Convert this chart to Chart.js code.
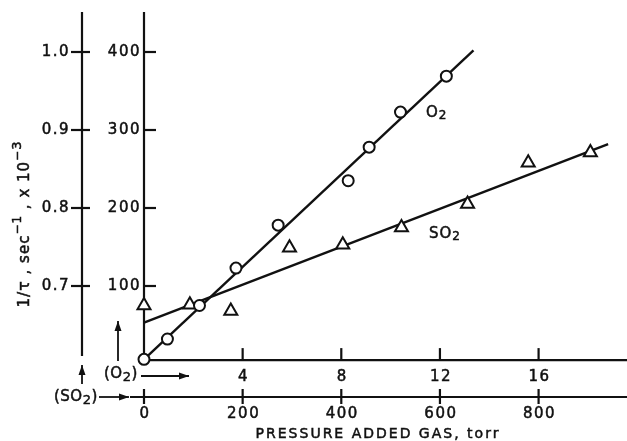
<!DOCTYPE html>
<html>
<head>
<meta charset="utf-8">
<script src="https://cdn.jsdelivr.net/npm/chart.js@4/dist/chart.umd.min.js"></script>
<style>
  body { margin: 0; background: #fff; }
  canvas { display: block; }
</style>
</head>
<body>
<canvas id="chart" width="627" height="441"></canvas>
<script>
// 讀自圖上的數值
const o2Pressure = [0, 0.95, 2.25, 3.73, 5.44, 8.28, 9.13, 10.4, 12.26];
const o2Rate = [6, 32, 75, 123, 178, 235, 278, 323, 369];
const so2Pressure = [0, 93, 176, 295, 403, 522, 656, 779, 905];
const so2Rate = [75, 76, 68, 149, 153, 175, 205, 258, 271];

// 擬合直線 (兩端點)
const o2FitX = [0, 13.36];
const o2FitY = [6, 402];
const so2FitX = [0, 941];
const so2FitY = [53, 282];

// 刻度
const innerTicks = [100, 200, 300, 400];
const outerTicks = [0.7, 0.8, 0.9, 1.0];
const o2Ticks = [4, 8, 12, 16];
const so2Ticks = [0, 200, 400, 600, 800];

const INK = '#111';
const FONT = '"DejaVu Sans"';

function toPoints(xs, ys) {
    return xs.map((x, i) => ({ x: x, y: ys[i] }));
}

function arrow(ctx, x1, y1, x2, y2, head) {
    const a = Math.atan2(y2 - y1, x2 - x1);
    ctx.beginPath();
    ctx.moveTo(x1, y1);
    ctx.lineTo(x2, y2);
    ctx.stroke();
    ctx.beginPath();
    ctx.moveTo(x2, y2);
    ctx.lineTo(x2 - head * Math.cos(a) + head * 0.35 * Math.sin(a), y2 - head * Math.sin(a) - head * 0.35 * Math.cos(a));
    ctx.lineTo(x2 - head * Math.cos(a) - head * 0.35 * Math.sin(a), y2 - head * Math.sin(a) + head * 0.35 * Math.cos(a));
    ctx.closePath();
    ctx.fill();
}

// 粗一點的文字 (模仿掃描線條)
function inkText(ctx, s, x, y) {
    ctx.fillText(s, x, y);
    ctx.strokeText(s, x, y);
}

// 多段文字: [文字, 垂直位移, 字級]
function richText(ctx, parts, x, y, align) {
    ctx.save();
    ctx.textAlign = 'left';
    let total = 0;
    parts.forEach(p => {
        ctx.font = p[2] + 'px ' + FONT;
        total += ctx.measureText(p[0]).width;
    });
    let cx = align === 'center' ? x - total / 2 : x;
    parts.forEach(p => {
        ctx.font = p[2] + 'px ' + FONT;
        inkText(ctx, p[0], cx, y + p[1]);
        cx += ctx.measureText(p[0]).width;
    });
    ctx.restore();
}

// 手繪座標軸
const axesPlugin = {
    id: 'axes',
    beforeDatasetsDraw(chart) {
        const ctx = chart.ctx;
        const { x, x2, y, y2 } = chart.scales;
        const x0 = x.getPixelForValue(0);
        const top = chart.chartArea.top - 1;
        const o2AxisY = y.getPixelForValue(5);
        const so2AxisY = 397;
        const outerX = 82;

        ctx.save();
        ctx.strokeStyle = INK;
        ctx.fillStyle = INK;
        ctx.lineWidth = 2.2;
        ctx.lineCap = 'butt';

        // 內側 y 軸
        ctx.beginPath();
        ctx.moveTo(x0, top);
        ctx.lineTo(x0, o2AxisY);
        ctx.stroke();
        ctx.font = '15px ' + FONT;
        ctx.letterSpacing = '1.5px';
        ctx.textAlign = 'right';
        ctx.textBaseline = 'middle';
        innerTicks.forEach(v => {
            const py = y.getPixelForValue(v);
            ctx.lineWidth = 2.2;
            ctx.beginPath();
            ctx.moveTo(x0, py);
            ctx.lineTo(x0 + 12, py);
            ctx.stroke();
            ctx.lineWidth = 0.5;
            inkText(ctx, String(v), x0 - 3, py);
        });

        // 外側 y 軸
        ctx.lineWidth = 2.2;
        ctx.beginPath();
        ctx.moveTo(outerX, top);
        ctx.lineTo(outerX, 356);
        ctx.stroke();
        outerTicks.forEach(v => {
            const py = y2.getPixelForValue(v);
            ctx.lineWidth = 2.2;
            ctx.beginPath();
            ctx.moveTo(outerX - 11, py);
            ctx.lineTo(outerX + 8, py);
            ctx.stroke();
            ctx.lineWidth = 0.5;
            inkText(ctx, v.toFixed(1), outerX - 12, py);
        });

        // O2 x 軸
        ctx.lineWidth = 2.2;
        ctx.beginPath();
        ctx.moveTo(x0, o2AxisY);
        ctx.lineTo(chart.width, o2AxisY);
        ctx.stroke();
        ctx.textAlign = 'center';
        o2Ticks.forEach(v => {
            const px = x.getPixelForValue(v);
            ctx.lineWidth = 2.2;
            ctx.beginPath();
            ctx.moveTo(px, o2AxisY - 12);
            ctx.lineTo(px, o2AxisY);
            ctx.stroke();
            ctx.lineWidth = 0.5;
            inkText(ctx, String(v), px + 1, o2AxisY + 17);
        });

        // SO2 x 軸
        ctx.lineWidth = 2.2;
        ctx.beginPath();
        ctx.moveTo(130, so2AxisY);
        ctx.lineTo(chart.width, so2AxisY);
        ctx.stroke();
        so2Ticks.forEach(v => {
            const px = x2.getPixelForValue(v);
            ctx.lineWidth = 2.2;
            ctx.beginPath();
            ctx.moveTo(px, so2AxisY - 8);
            ctx.lineTo(px, so2AxisY + 7);
            ctx.stroke();
            ctx.lineWidth = 0.5;
            inkText(ctx, String(v), px + 1, so2AxisY + 17);
        });

        // 軸標題
        ctx.font = '14px ' + FONT;
        ctx.letterSpacing = '2px';
        inkText(ctx, 'PRESSURE ADDED GAS, torr', 378, 434);

        ctx.save();
        ctx.translate(25, 224);
        ctx.rotate(-Math.PI / 2);
        ctx.letterSpacing = '1px';
        richText(ctx, [
            ['1/', 0, 15], ['\u03C4', 0, 16], [' , sec', 0, 15], ['\u2212', -7, 12], ['1', -7, 12],
            [' , x 10', 0, 15], ['\u2212', -7, 12], ['3', -7, 13]
        ], 0, 0, 'center');
        ctx.restore();

        // 箭頭與標註
        ctx.letterSpacing = '0.5px';
        richText(ctx, [['(O', 0, 15], ['2', 4, 13], [')', 0, 15]], 104, 374, 'left');
        richText(ctx, [['(SO', 0, 15], ['2', 4, 13], [')', 0, 15]], 54, 397, 'left');
        ctx.lineWidth = 1.8;
        arrow(ctx, 141, 376, 189, 376, 10);
        arrow(ctx, 99, 397, 129, 397, 10);
        arrow(ctx, 118, 361, 118, 321, 10);
        arrow(ctx, outerX, 384, outerX, 365, 10);

        // 系列標籤
        ctx.lineWidth = 0.5;
        ctx.letterSpacing = '1px';
        richText(ctx, [['O', 0, 15], ['2', 3, 12]], 426, 113, 'left');
        richText(ctx, [['SO', 0, 15], ['2', 3, 12]], 429, 234, 'left');
        ctx.restore();
    }
};

function initChart() {
    const ctx = document.getElementById('chart').getContext('2d');
    new Chart(ctx, {
        type: 'scatter',
        data: {
            datasets: [
                {
                    label: 'O2',
                    data: toPoints(o2Pressure, o2Rate),
                    xAxisID: 'x',
                    yAxisID: 'y',
                    pointStyle: 'circle',
                    pointRadius: 5.5,
                    pointBorderWidth: 2,
                    borderColor: INK,
                    backgroundColor: '#fff',
                    clip: false
                },
                {
                    label: 'SO2',
                    data: toPoints(so2Pressure, so2Rate),
                    xAxisID: 'x2',
                    yAxisID: 'y',
                    pointStyle: 'triangle',
                    pointRadius: 7.5,
                    pointBorderWidth: 2,
                    borderColor: INK,
                    backgroundColor: '#fff',
                    clip: false
                },
                {
                    label: 'O2 fit',
                    data: toPoints(o2FitX, o2FitY),
                    xAxisID: 'x',
                    yAxisID: 'y',
                    showLine: true,
                    pointRadius: 0,
                    borderColor: INK,
                    borderWidth: 2.4,
                    clip: false
                },
                {
                    label: 'SO2 fit',
                    data: toPoints(so2FitX, so2FitY),
                    xAxisID: 'x2',
                    yAxisID: 'y',
                    showLine: true,
                    pointRadius: 0,
                    borderColor: INK,
                    borderWidth: 2.4,
                    clip: false
                }
            ]
        },
        options: {
            responsive: false,
            animation: false,
            events: [],
            layout: {
                padding: { left: 144, right: 0, top: 13, bottom: 77 }
            },
            plugins: {
                legend: { display: false },
                tooltip: { enabled: false }
            },
            scales: {
                x: { type: 'linear', min: 0, max: 19.2, display: false },
                x2: { type: 'linear', min: 0, max: 960, display: false },
                y: { type: 'linear', min: 0, max: 450, display: false },
                y2: { type: 'linear', min: 0.6, max: 1.05, display: false }
            }
        },
        plugins: [axesPlugin]
    });
}

document.addEventListener('DOMContentLoaded', () => {
    initChart();
});
</script>
</body>
</html>
